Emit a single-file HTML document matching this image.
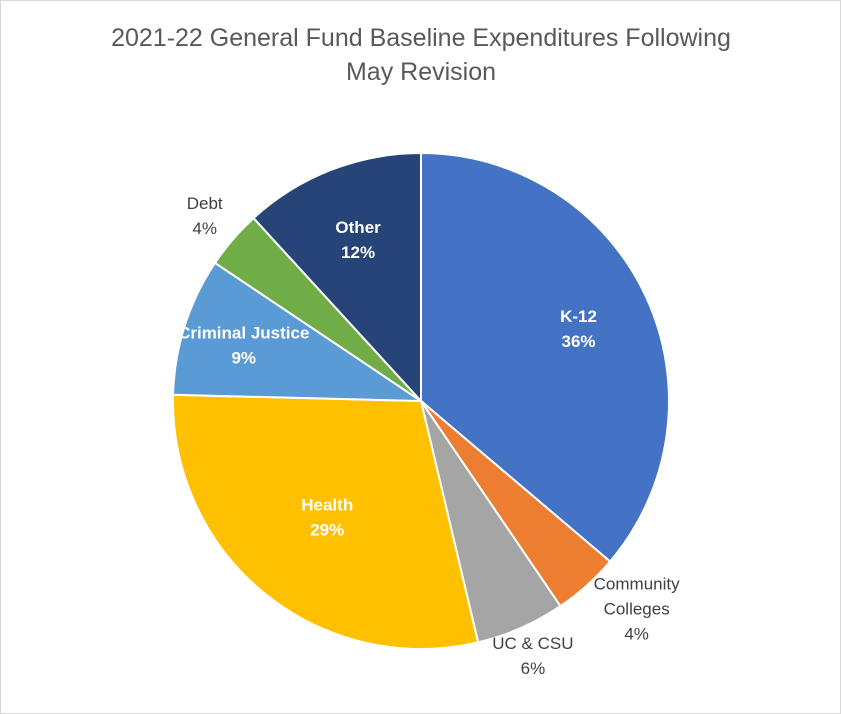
<!DOCTYPE html>
<html><head><meta charset="utf-8"><style>
body{margin:0;background:#fff;}
svg{display:block;font-family:"Liberation Sans",Calibri,sans-serif;}
</style></head><body>
<svg id="chart" width="841" height="714">
<rect x="0.5" y="0.5" width="840" height="713" fill="#fff" stroke="#d9d9d9"/>
<text x="421" y="46" text-anchor="middle" font-size="25" fill="#595959">2021-22 General Fund Baseline Expenditures Following</text>
<text x="421" y="80" text-anchor="middle" font-size="25" fill="#595959">May Revision</text>
<g id="slices"></g><g id="labels"></g>
</svg>
<script>
const categories=["K-12","Community Colleges","UC & CSU","Health","Criminal Justice","Debt","Other"];
const values=[36.2,4.3,5.8,29.1,9.0,3.8,11.8];
const printed=["36%","4%","6%","29%","9%","4%","12%"];
const colors=["#4472c4","#ed7d31","#a5a5a5","#ffc000","#5b9bd5","#70ad47","#264478"];
const cx=421,cy=401,r=248;
const NS="http://www.w3.org/2000/svg";
const total=values.reduce((a,b)=>a+b,0);
function pt(a,rr){return [cx+rr*Math.sin(a),cy-rr*Math.cos(a)];}
const sg=document.getElementById('slices'),lg=document.getElementById('labels');
// label placement: [radius factor, inside?]
const lblCfg=[[0.7,1],[1.12,0],[1.12,0],[0.6,1],[0.75,1],[1.15,0],[0.7,1]];
let a0=0;
values.forEach((v,i)=>{
  const a1=a0+v/total*2*Math.PI;
  const p0=pt(a0,r),p1=pt(a1,r);
  const large=(a1-a0)>Math.PI?1:0;
  const p=document.createElementNS(NS,'path');
  p.setAttribute('d',`M${cx},${cy}L${p0[0]},${p0[1]}A${r},${r} 0 ${large} 1 ${p1[0]},${p1[1]}Z`);
  p.setAttribute('fill',colors[i]);p.setAttribute('stroke','#fff');p.setAttribute('stroke-width','2');
  
  
  sg.appendChild(p);
  const am=(a0+a1)/2,c=lblCfg[i];
  const lp=pt(am,r*c[0]);
  const t=document.createElementNS(NS,'text');
  t.setAttribute('text-anchor','middle');t.setAttribute('font-size','17');
  t.setAttribute('fill',c[1]?'#fff':'#404040');
  if(c[1])t.setAttribute('font-weight','bold');
  
  
  let lines=categories[i]==="Community Colleges"?["Community","Colleges",printed[i]]:[categories[i],printed[i]];
  let x=lp[0];
  if(i===1)x+=30;
  const y0=lp[1]-(lines.length-1)*12+6;
  lines.forEach((s,k)=>{const ts=document.createElementNS(NS,'tspan');ts.setAttribute('x',x);ts.setAttribute('y',y0+k*25);ts.textContent=s;t.appendChild(ts);});
  lg.appendChild(t);
  a0=a1;
});
</script>
</body></html>
